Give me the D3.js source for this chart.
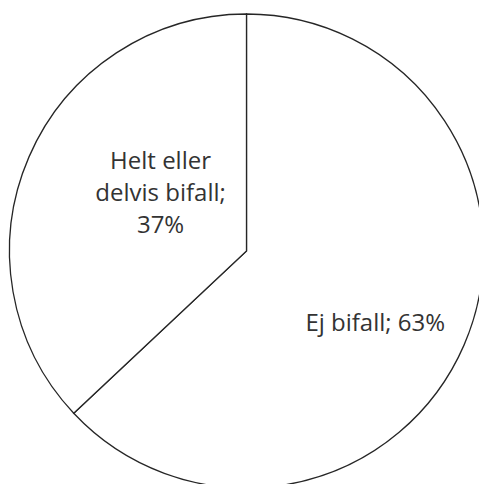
<!DOCTYPE html>
<style>
  body{ margin:0; background:#fff; }
  svg text{ font-family: 'Open Sans', 'Noto Sans', sans-serif; fill:#333; }
</style>
<svg id='pie'></svg>
<script src="https://cdnjs.cloudflare.com/ajax/libs/d3/7.8.5/d3.min.js"></script>
<script>
var categories = ['Ej bifall', 'Helt eller delvis bifall'],
    values = [63, 37],
    labelLines = [['Ej bifall; 63%'], ['Helt eller', 'delvis bifall;', '37%']]

var width = 479,
    height = 484,
    center = {x: 246.5, y: 251},
    r = 237,
    font = 24,
    lineGap = 32,
    // where each label sits: fraction of radius, angle nudge (degrees)
    labelPos = [{k: 0.62, nudge: 5.4}, {k: 0.44, nudge: 11.1}]

var svg = d3.select('#pie')
  .attr('width', width)
  .attr('height', height)

var canvas = svg.append('g')
  .attr('transform', `translate(${center.x}, ${center.y})`)

var pie = d3.pie().sort(null).value((d) => d.value)
var arc = d3.arc().innerRadius(0).outerRadius(r)

var data = categories.map((c, i) => ({name: c, value: values[i], lines: labelLines[i]}))
var slices = pie(data)

canvas.selectAll('path')
  .data(slices)
  .enter()
  .append('path')
  .attr('d', arc)
  .attr('fill', '#fff')
  .attr('stroke', '#262626')
  .attr('stroke-width', 1.3)
  .attr('stroke-linejoin', 'miter')

var label = canvas.selectAll('g.label')
  .data(slices)
  .enter()
  .append('g')
  .attr('class', 'label')
  .attr('transform', (d, i) => {
    var a = (d.startAngle + d.endAngle) / 2 + labelPos[i].nudge * Math.PI / 180
    var rr = r * labelPos[i].k
    return `translate(${rr * Math.sin(a)}, ${-rr * Math.cos(a)})`
  })

label.selectAll('text')
  .data((d) => d.data.lines.map((t, j, all) => ({t: t, off: (j - (all.length - 1) / 2) * lineGap})))
  .enter()
  .append('text')
  .attr('text-anchor', 'middle')
  .attr('dominant-baseline', 'central')
  .attr('font-size', font)
  .attr('y', (d) => d.off)
  .text((d) => d.t)
</script>
